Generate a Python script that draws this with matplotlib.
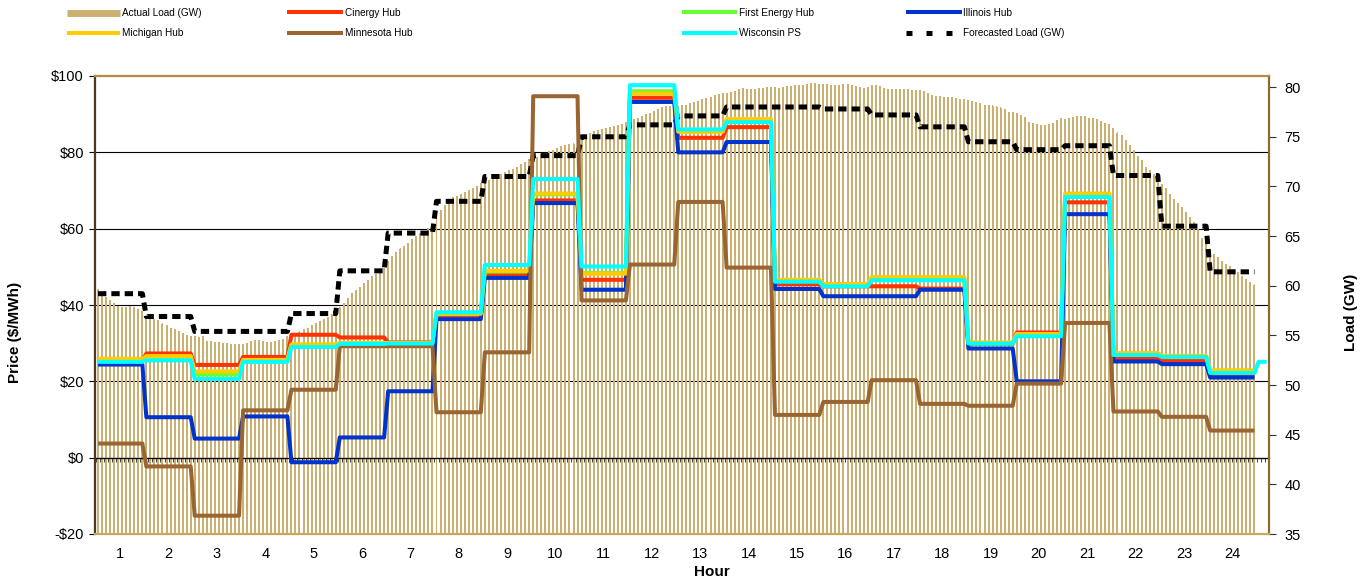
import numpy as np
import matplotlib
matplotlib.use("Agg")
import matplotlib.pyplot as plt
from matplotlib.lines import Line2D
from matplotlib import font_manager

# ---------------- data ----------------
hour_labels = [str(h) for h in range(1, 25)]
intervals_per_hour = 12

# actual load (GW), 5-minute values
actual_load = [
    59.6, 59.3, 58.8, 58.5, 58.2, 57.9, 57.8, 57.8, 57.9, 57.8, 57.6, 57.4,
    56.9, 56.7, 56.6, 56.5, 56.2, 56.0, 55.7, 55.6, 55.4, 55.2, 55.0, 54.9,
    54.9, 54.8, 54.9, 54.4, 54.4, 54.3, 54.3, 54.2, 54.2, 54.1, 54.1, 54.1,
    54.1, 54.2, 54.4, 54.5, 54.5, 54.4, 54.3, 54.3, 54.4, 54.5, 54.6, 54.9,
    55.0, 55.2, 55.4, 55.6, 55.7, 56.0, 56.2, 56.4, 56.6, 56.8, 57.1, 57.4,
    57.8, 58.2, 58.7, 59.2, 59.5, 59.8, 60.2, 60.5, 60.9, 61.1, 61.4, 61.7,
    62.4, 62.9, 63.3, 63.7, 64.0, 64.3, 64.7, 65.0, 65.3, 65.5, 65.8, 66.2,
    67.0, 67.6, 68.1, 68.6, 68.9, 69.0, 69.2, 69.4, 69.6, 69.8, 70.0, 70.3,
    70.4, 70.6, 70.8, 71.1, 71.2, 71.4, 71.6, 71.7, 71.9, 72.2, 72.4, 72.7,
    72.7, 72.9, 73.2, 73.3, 73.5, 73.6, 73.8, 74.0, 74.1, 74.2, 74.3, 74.5,
    74.7, 75.0, 75.3, 75.5, 75.6, 75.7, 75.8, 75.9, 76.0, 76.1, 76.2, 76.4,
    76.5, 76.7, 76.8, 77.0, 77.2, 77.3, 77.5, 77.7, 77.9, 78.0, 78.0, 78.0,
    78.0, 78.2, 78.2, 78.4, 78.5, 78.6, 78.8, 78.9, 79.0, 79.2, 79.3, 79.4,
    79.4, 79.5, 79.6, 79.8, 79.9, 79.8, 79.8, 79.8, 79.9, 79.9, 80.0, 80.0,
    80.0, 79.9, 80.0, 80.1, 80.1, 80.2, 80.2, 80.2, 80.3, 80.4, 80.4, 80.3,
    80.3, 80.3, 80.2, 80.2, 80.2, 80.3, 80.3, 80.2, 80.1, 80.0, 79.9, 80.0,
    80.2, 80.2, 80.1, 79.9, 79.8, 79.8, 79.8, 79.8, 79.8, 79.8, 79.7, 79.7,
    79.7, 79.6, 79.4, 79.2, 79.1, 79.1, 79.0, 79.0, 79.0, 78.9, 78.8, 78.8,
    78.7, 78.6, 78.5, 78.4, 78.2, 78.2, 78.1, 78.0, 77.9, 77.7, 77.4, 77.4,
    77.3, 77.1, 76.9, 76.4, 76.3, 76.2, 76.1, 76.1, 76.2, 76.3, 76.6, 76.8,
    76.7, 76.8, 76.9, 77.0, 77.0, 77.0, 76.8, 76.8, 76.7, 76.5, 76.3, 76.2,
    75.8, 75.4, 75.1, 74.6, 74.1, 73.6, 73.0, 72.6, 71.9, 71.6, 71.2, 70.7,
    70.2, 69.8, 69.2, 68.7, 68.3, 67.9, 67.4, 66.9, 66.4, 65.7, 64.8, 64.3,
    63.6, 63.1, 62.8, 62.4, 62.1, 61.9, 61.6, 61.3, 60.9, 60.6, 60.3, 60.1,
]

# hourly forecast load (GW)
forecast_load = [59.2, 56.9, 55.4, 55.4, 57.2, 61.5, 65.3, 68.5, 71.0, 73.1, 75.0, 76.2,
                 77.1, 78.0, 78.0, 77.8, 77.2, 76.0, 74.5, 73.7, 74.1, 71.1, 66.0, 61.4]

# hourly prices ($/MWh)
cinergy = [25.5, 27.3, 24.3, 26.4, 32.2, 31.5, 30.2, 37.4, 47.8, 67.4, 46.6, 94.3,
           83.8, 86.6, 45.4, 44.9, 44.9, 44.3, 29.8, 32.8, 66.9, 26.0, 25.3, 21.5]
first_energy = [25.5, 26.5, 21.8, 25.6, 29.5, 30.0, 30.0, 37.7, 48.8, 69.0, 48.4, 96.0,
                85.5, 88.3, 46.4, 45.3, 47.0, 47.0, 29.9, 32.2, 68.8, 27.2, 26.5, 22.6]
illinois = [24.4, 10.6, 5.0, 10.8, -1.2, 5.3, 17.4, 36.3, 47.1, 66.7, 44.0, 93.2,
            80.0, 82.7, 44.2, 42.3, 42.3, 44.0, 28.6, 20.0, 63.8, 25.2, 24.5, 21.0]
michigan = [25.9, 26.6, 22.6, 25.6, 29.7, 30.0, 30.1, 37.7, 49.0, 69.2, 48.2, 95.4,
            85.4, 88.7, 46.6, 45.5, 47.3, 47.3, 30.2, 32.4, 69.2, 27.4, 26.7, 22.9]
minnesota = [3.7, -2.3, -15.2, 12.4, 17.8, 29.2, 29.2, 11.9, 27.6, 94.7, 41.2, 50.6,
             67.0, 49.8, 11.2, 14.6, 20.3, 14.1, 13.6, 19.4, 35.3, 12.1, 10.7, 7.1]
wisconsin = [25.1, 25.5, 20.6, 25.1, 29.0, 29.8, 29.9, 38.1, 50.5, 73.0, 50.1, 97.6,
             86.0, 87.9, 46.1, 44.9, 46.5, 46.5, 29.9, 31.8, 68.3, 26.9, 26.4, 22.2]
wisconsin_tail = [25.1, 25.1, 25.1]

price_ticks = [-20, 0, 20, 40, 60, 80, 100]
price_tick_labels = ["-$20", "$0", "$20", "$40", "$60", "$80", "$100"]
load_ticks = [35, 40, 45, 50, 55, 60, 65, 70, 75, 80]

series = [
    ("Cinergy Hub", cinergy, "#FF3300"),
    ("First Energy Hub", first_energy, "#66FF33"),
    ("Illinois Hub", illinois, "#0033CC"),
    ("Michigan Hub", michigan, "#FFCC00"),
    ("Minnesota Hub", minnesota, "#996633"),
    ("Wisconsin PS", wisconsin, "#00FFFF"),
]
LOAD_COLOR = "#CBB071"

# ---------------- fonts ----------------
names = {f.name for f in font_manager.fontManager.ttflist}
BASE = "Liberation Sans" if "Liberation Sans" in names else "DejaVu Sans"
if "Liberation Sans Narrow" in names:
    LEG_FONT, LEG_SIZE = "Liberation Sans Narrow", 8.5
else:
    LEG_FONT, LEG_SIZE = BASE, 7.2
plt.rcParams["font.family"] = [BASE, "DejaVu Sans"]
plt.rcParams["lines.scale_dashes"] = False

W, H = 1372, 580
fig = plt.figure(figsize=(W / 100, H / 100), dpi=100)

def fx(x):
    return x / W

def fy(y):
    return 1 - y / H

AX_L, AX_R, AX_T, AX_B = 95, 1269, 76, 534
rect = [fx(AX_L), fy(AX_B), fx(AX_R) - fx(AX_L), fy(AX_T) - fy(AX_B)]

# gridlines (bottom layer)
axg = fig.add_axes(rect, zorder=0)
axg.set_ylim(price_ticks[0], price_ticks[-1])
axg.set_xticks([])
axg.set_yticks([])
for s in axg.spines.values():
    s.set_visible(False)
for t in price_ticks[1:-1]:
    axg.axhline(t, color="black", lw=0.8)

# price axes (top layer)
ax = fig.add_axes(rect, zorder=2)
ax.patch.set_visible(False)
ax2 = ax.twinx()
ax2.set_zorder(1)
ax2.patch.set_visible(False)

n = len(actual_load)
cat = np.arange(n)
xlim = (-0.75, 290.6)
ax.set_xlim(*xlim)
px_per_cat = (AX_R - AX_L) / (xlim[1] - xlim[0])
# non-antialiased fills paint every touched pixel: a 1-px-wide rect -> 2-px bar
bar_width = 1.0 / px_per_cat

# load bars + forecast on load axis
bars = ax2.bar(cat, np.array(actual_load) - 35, bottom=35, width=bar_width,
               color=LOAD_COLOR, linewidth=0, antialiased=False, zorder=2)
for b in bars:
    b.set_snap(False)
ax2.plot(cat, np.repeat(forecast_load, intervals_per_hour), color="black", lw=3.6,
         dashes=(6, 3.6), dash_capstyle="butt", zorder=3)
ax2.set_ylim(35, 81.12)
ax2.set_yticks(load_ticks)
ax2.tick_params(axis="y", length=5, width=0.8, color="#333333", pad=6, labelsize=10.5)
for s in ax2.spines.values():
    s.set_visible(False)

# price lines
for name, vals, col in series:
    y = np.repeat(vals, intervals_per_hour)
    x = cat
    if name == "Wisconsin PS":
        y = np.concatenate([y, wisconsin_tail])
        x = np.arange(len(y))
    ax.plot(x, y, color=col, lw=2.9, solid_joinstyle="round", solid_capstyle="butt",
            zorder=3, clip_on=False if name == "Wisconsin PS" else True)

ax.set_ylim(price_ticks[0], price_ticks[-1])
ax.set_yticks(price_ticks)
ax.set_yticklabels(price_tick_labels)
ax.tick_params(axis="y", length=4, width=0.8, pad=4, labelsize=10.5)

hour_centers = [intervals_per_hour * i + 5.5 for i in range(len(hour_labels))]
ax.set_xticks(hour_centers)
ax.set_xticklabels(hour_labels)
ax.tick_params(axis="x", length=0, pad=9, labelsize=10.5)

ax.spines["left"].set_color("#4a3a1a")
ax.spines["right"].set_color("#8a6a30")
ax.spines["top"].set_color("#b38b45")
ax.spines["bottom"].set_color("#c9a85f")
for s in ax.spines.values():
    s.set_linewidth(1.6)

# category axis crossing at $0
zero_frac = (0 - price_ticks[0]) / (price_ticks[-1] - price_ticks[0])
sec = ax.secondary_xaxis(zero_frac)
sec.set_xticks(np.arange(-0.5, 290.6, 1.0))
sec.tick_params(axis="x", length=3, width=0.6, color="#222222", labelbottom=False,
                labeltop=False)
sec.spines["bottom"].set_color("black")
sec.spines["bottom"].set_linewidth(0.9)

# axis titles
fig.text(fx(15), fy(332), "Price ($/MWh)", rotation=90, ha="center", va="center",
         fontsize=11, fontweight="bold")
fig.text(fx(1351), fy(312), "Load (GW)", rotation=90, ha="center", va="center",
         fontsize=11, fontweight="bold")
fig.text(fx(712), fy(572), "Hour", ha="center", va="center", fontsize=11,
         fontweight="bold")

# legend (manual, Excel-like irregular columns)
legend_items = [
    ("Actual Load (GW)", LOAD_COLOR, 5.0, None, 67, 120, 12.7),
    ("Cinergy Hub", "#FF3300", 2.9, None, 287, 343, 12.3),
    ("First Energy Hub", "#66FF33", 2.9, None, 682, 737, 12.3),
    ("Illinois Hub", "#0033CC", 2.9, None, 906, 962, 12.3),
    ("Michigan Hub", "#FFCC00", 2.9, None, 67, 120, 32.7),
    ("Minnesota Hub", "#996633", 2.9, None, 287, 343, 32.7),
    ("Wisconsin PS", "#00FFFF", 2.9, None, 682, 737, 32.7),
    ("Forecasted Load (GW)", "black", 3.6, (4.3, 10.1), 906, 953, 32.7),
]
for label, col, lw, dash, x0, x1, yy in legend_items:
    ln = Line2D([fx(x0), fx(x1)], [fy(yy), fy(yy)], transform=fig.transFigure,
                color=col, lw=lw, solid_capstyle="butt", dash_capstyle="butt")
    if dash is not None:
        ln.set_dashes(dash)
    fig.add_artist(ln)
    tx = 963 if x0 == 906 else x1 + 2
    fig.text(fx(tx), fy(yy + 0.8), label, ha="left", va="center",
             fontsize=LEG_SIZE, family=[LEG_FONT, "DejaVu Sans"])

fig.savefig("out.png", dpi=100)
